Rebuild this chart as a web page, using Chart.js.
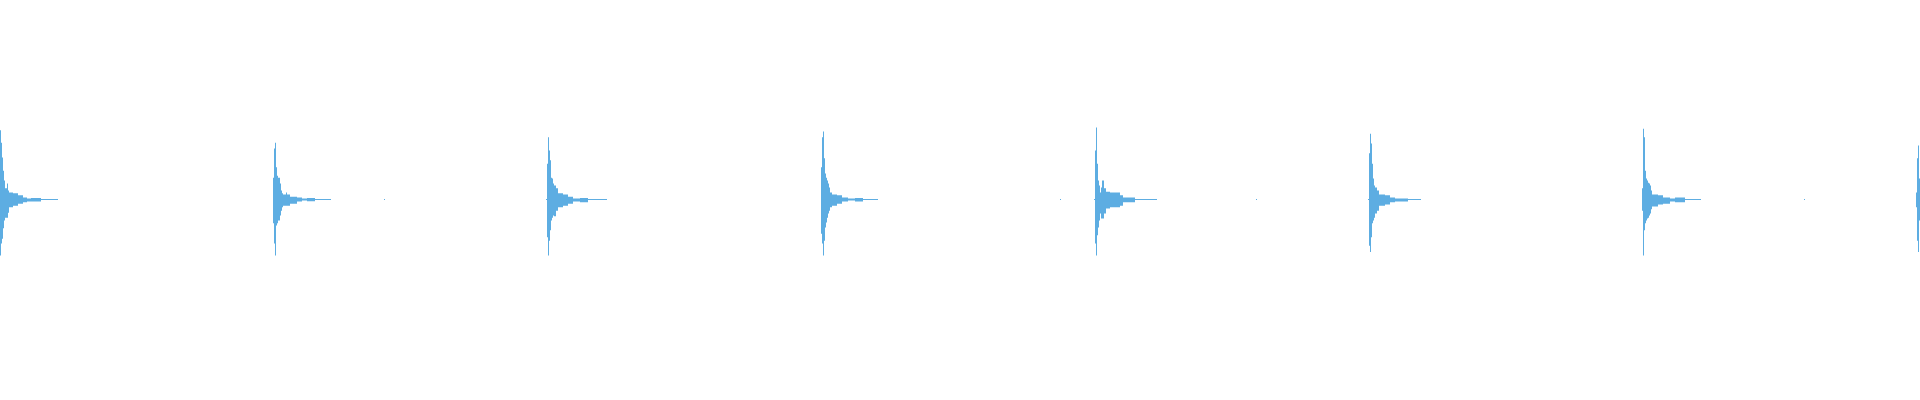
<!doctype html>
<html lang="en">
<head>
  <meta charset="utf-8">
  <title>Waveform</title>
  <style>
    body {
      margin: 0;
      background-color: white;
    }

    .wave {
      width: 1920px;
      height: 400px;
    }
  </style>
</head>
<body>
  <div class="wave">
    <canvas id="wave"></canvas>
  </div>
  <script src="https://cdn.jsdelivr.net/npm/chart.js@4/dist/chart.umd.min.js"></script>
  <script>
    // click onsets, in ms
    const onsets = [0, 1092, 2184, 3284, 4376, 5472, 6568, 7664];

    // each click: [ms after onset, upper envelope, lower envelope]
    const click1 = [[0, 0.99, -0.80], [4, 0.81, -0.63], [8, 0.60, -0.56], [12, 0.41, -0.41], [16, 0.27, -0.30],
      [20, 0.16, -0.26], [28, 0.23, -0.26], [32, 0.13, -0.19], [36, 0.10, -0.11], [52, 0.09, -0.09],
      [72, 0.06, -0.06], [92, 0.03, -0.04], [108, 0.014, -0.03], [124, 0.02, -0.03], [164, 0.0075, -0.0075],
      [232, 0.0075, -0.0075]];
    const click2 = [[0, 0.31, -0.34], [4, 0.73, -0.63], [8, 0.81, -0.80], [12, 0.46, -0.37], [16, 0.34, -0.34],
      [20, 0.31, -0.30], [28, 0.23, -0.23], [32, 0.13, -0.16], [36, 0.09, -0.11], [40, 0.07, -0.09],
      [52, 0.10, -0.09], [56, 0.07, -0.09], [68, 0.04, -0.06], [96, 0.03, -0.03], [116, 0.014, -0.014],
      [136, 0.02, -0.025], [168, 0.0075, -0.0075], [232, 0.0075, -0.0075]];
    const click3 = [[0, 0.0075, -0.0075], [4, 0.51, -0.54], [8, 0.89, -0.80], [12, 0.70, -0.59], [16, 0.56, -0.44],
      [20, 0.31, -0.30], [24, 0.30, -0.26], [28, 0.23, -0.23], [32, 0.20, -0.24], [40, 0.16, -0.16],
      [48, 0.09, -0.11], [68, 0.07, -0.09], [88, 0.04, -0.06], [108, 0.014, -0.03], [136, 0.02, -0.04],
      [168, 0.0075, -0.0075], [244, 0.0075, -0.0075]];
    const click4 = [[0, 0.46, -0.49], [4, 0.89, -0.63], [8, 0.97, -0.80], [12, 0.59, -0.59], [16, 0.37, -0.40],
      [20, 0.31, -0.33], [24, 0.27, -0.26], [28, 0.23, -0.20], [32, 0.17, -0.16], [36, 0.10, -0.11],
      [44, 0.07, -0.09], [64, 0.06, -0.06], [84, 0.03, -0.03], [108, 0.014, -0.014], [136, 0.02, -0.03],
      [168, 0.0075, -0.0075], [228, 0.0075, -0.0075]];
    const click5 = [[0, 0.0075, -0.0075], [4, 0.70, -0.63], [8, 1.03, -0.80], [12, 0.51, -0.51], [16, 0.27, -0.40],
      [20, 0.20, -0.30], [24, 0.10, -0.20], [28, 0.17, -0.27], [32, 0.27, -0.27], [40, 0.16, -0.20],
      [48, 0.11, -0.13], [64, 0.10, -0.11], [104, 0.06, -0.09], [116, 0.03, -0.04], [164, 0.0075, -0.0075],
      [252, 0.0075, -0.0075]];
    const click6 = [[0, 0.0075, -0.0075], [4, 0.66, -0.66], [8, 0.94, -0.75], [12, 0.80, -0.54], [16, 0.51, -0.34],
      [20, 0.30, -0.30], [24, 0.20, -0.26], [28, 0.17, -0.20], [36, 0.13, -0.16], [44, 0.07, -0.09],
      [68, 0.06, -0.07], [88, 0.03, -0.04], [108, 0.014, -0.03], [160, 0.0075, -0.0075], [212, 0.0075, -0.0075]];
    const click7 = [[0, 0.16, -0.16], [4, 1.01, -0.80], [8, 0.89, -0.44], [12, 0.41, -0.34], [16, 0.30, -0.30],
      [20, 0.27, -0.27], [24, 0.24, -0.26], [28, 0.23, -0.23], [32, 0.20, -0.20], [36, 0.13, -0.14],
      [40, 0.07, -0.10], [64, 0.06, -0.07], [84, 0.03, -0.06], [112, 0.014, -0.03], [132, 0.03, -0.04],
      [172, 0.0075, -0.0075], [236, 0.0075, -0.0075]];
    const click8 = [[0, 0.10, -0.11], [4, 0.59, -0.59], [8, 0.77, -0.75], [12, 0.30, -0.30], [16, 0.30, -0.30]];

    // single stray samples between clicks
    const blipOnsets = [1536, 4240, 5024, 7216];
    const blip = [[0, 0.0075, -0.0075], [4, 0.0075, -0.0075]];

    const pieces = [click1, click2, click3, click4, click5, click6, click7, click8].map((c, i) => [onsets[i], c])
        .concat(blipOnsets.map(t => [t, blip]));

    const upper = [];
    const lower = [];
    pieces.sort((a, b) => a[0] - b[0]).forEach(([t0, c]) => {
        c.forEach(p => {
            upper.push({x: t0 + p[0], y: p[1]});
            lower.push({x: t0 + p[0], y: p[2]});
        });
        // break the envelope until the next click
        const gap = t0 + c[c.length - 1][0] + 1;
        upper.push({x: gap, y: null});
        lower.push({x: gap, y: null});
    });

    const blue = '#5dade2';

    new Chart(document.getElementById('wave'), {
        type: 'line',
        data: {
            datasets: [{
                data: upper,
                borderColor: 'transparent',
                borderWidth: 0,
                pointRadius: 0,
                stepped: true,
                fill: false,
            }, {
                data: lower,
                borderColor: 'transparent',
                backgroundColor: blue,
                borderWidth: 0,
                pointRadius: 0,
                stepped: true,
                fill: '-1',
            }]
        },
        options: {
            animation: false,
            responsive: true,
            maintainAspectRatio: false,
            layout: { padding: 0, autoPadding: false },
            plugins: {
                legend: { display: false },
                tooltip: { enabled: false },
            },
            scales: {
                x: { type: 'linear', min: 0, max: 7680, display: false },
                y: { min: -2.864, max: 2.85, display: false },
            },
        }
    });
  </script>
</body>
</html>
